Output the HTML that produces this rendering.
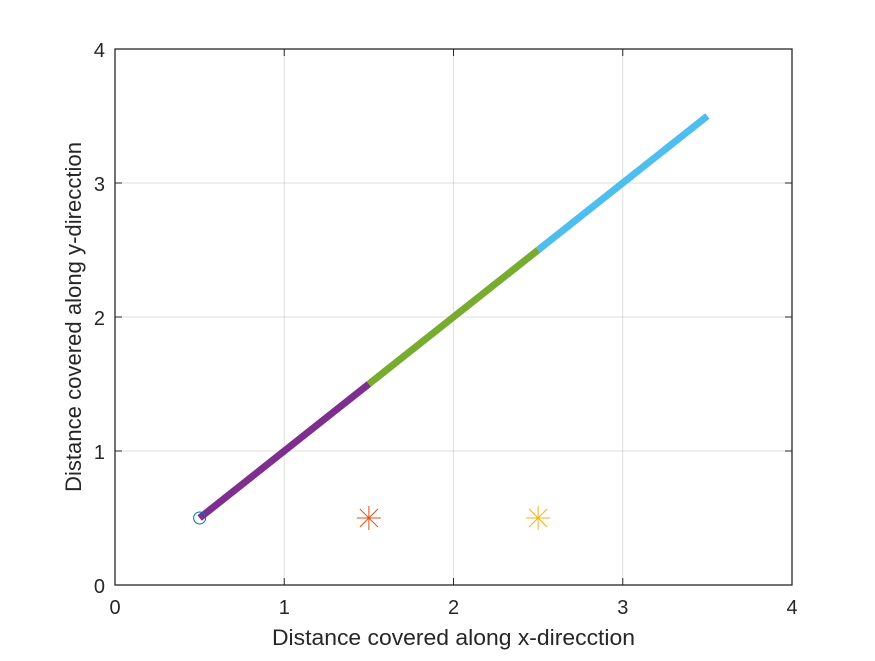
<!DOCTYPE html>
<html><head><meta charset="utf-8"><style>
body{margin:0;background:#fff;width:875px;height:656px;overflow:hidden}
text{font-family:"Liberation Sans",sans-serif;fill:#262626}
</style></head><body>
<svg id="chart" width="875" height="656" xmlns="http://www.w3.org/2000/svg"></svg>
<script>
const xTicks=[0,1,2,3,4];
const yTicks=[0,1,2,3,4];
const segX1=[0.5,1.5,2.5];
const segY1=[0.5,1.5,2.5];
const segX2=[1.5,2.5,3.5];
const segY2=[1.5,2.5,3.5];
const segColors=['#7E2F8E','#77AC30','#4DBEEE'];
const circleX=[0.5];const circleY=[0.5];
const starX=[1.5,2.5];const starY=[0.5,0.5];
const starColors=['#D95319','#EDB120'];
const L=115,R=792,T=49,B=585;
const sx=v=>L+(v-0)/(4-0)*(R-L);
const sy=v=>B-(v-0)/(4-0)*(B-T);
const svg=document.getElementById('chart');
const NS='http://www.w3.org/2000/svg';
function mk(tag,attrs,parent){const e=document.createElementNS(NS,tag);for(const k in attrs)e.setAttribute(k,attrs[k]);(parent||svg).appendChild(e);return e;}
let e;
e=mk('rect',{x:L,y:T,width:R-L,height:B-T,fill:'#fff'});


xTicks.forEach(v=>{
 e=mk('line',{x1:sx(v),x2:sx(v),y1:T,y2:B,stroke:'#262626','stroke-opacity':0.15,'stroke-width':1});
 
 
 mk('line',{x1:sx(v),x2:sx(v),y1:B,y2:B-7,stroke:'#262626'});
 mk('line',{x1:sx(v),x2:sx(v),y1:T,y2:T+7,stroke:'#262626'});
 e=mk('text',{x:sx(v),y:614,'text-anchor':'middle','font-size':20});e.textContent=v;
 
 
});
yTicks.forEach(v=>{
 e=mk('line',{x1:L,x2:R,y1:sy(v),y2:sy(v),stroke:'#262626','stroke-opacity':0.15,'stroke-width':1});
 
 
 mk('line',{x1:L,x2:L+7,y1:sy(v),y2:sy(v),stroke:'#262626'});
 mk('line',{x1:R,x2:R-7,y1:sy(v),y2:sy(v),stroke:'#262626'});
 e=mk('text',{x:105,y:sy(v)+8,'text-anchor':'end','font-size':20});e.textContent=v;
 
 
});
e=mk('rect',{x:L,y:T,width:R-L,height:B-T,fill:'none',stroke:'#262626','stroke-width':1.3});


segX1.forEach((v,i)=>{
 e=mk('line',{x1:sx(v),y1:sy(segY1[i]),x2:sx(segX2[i]),y2:sy(segY2[i]),stroke:segColors[i],'stroke-width':7});
 
 
});
circleX.forEach((v,i)=>{
 e=mk('circle',{cx:sx(v),cy:sy(circleY[i]),r:6,fill:'none',stroke:'#0072BD','stroke-width':1});
 
 
});
starX.forEach((v,i)=>{
 const g=mk('g',{stroke:starColors[i],'stroke-width':1});
 
 
 const cx=sx(v),cy=sy(starY[i]),r=12,d=9;
 mk('line',{x1:cx-r,y1:cy,x2:cx+r,y2:cy},g);
 mk('line',{x1:cx,y1:cy-r,x2:cx,y2:cy+r},g);
 mk('line',{x1:cx-d,y1:cy-d,x2:cx+d,y2:cy+d},g);
 mk('line',{x1:cx-d,y1:cy+d,x2:cx+d,y2:cy-d},g);
});
e=mk('text',{x:(L+R)/2,y:645,'text-anchor':'middle','font-size':22,textLength:363,lengthAdjust:'spacingAndGlyphs'});e.textContent='Distance covered along x-direcction';


e=mk('text',{x:0,y:0,'text-anchor':'middle','font-size':22,textLength:350,lengthAdjust:'spacingAndGlyphs',transform:`translate(81,${(T+B)/2}) rotate(-90)`});e.textContent='Distance covered along y-direcction';


</script>
</body></html>
